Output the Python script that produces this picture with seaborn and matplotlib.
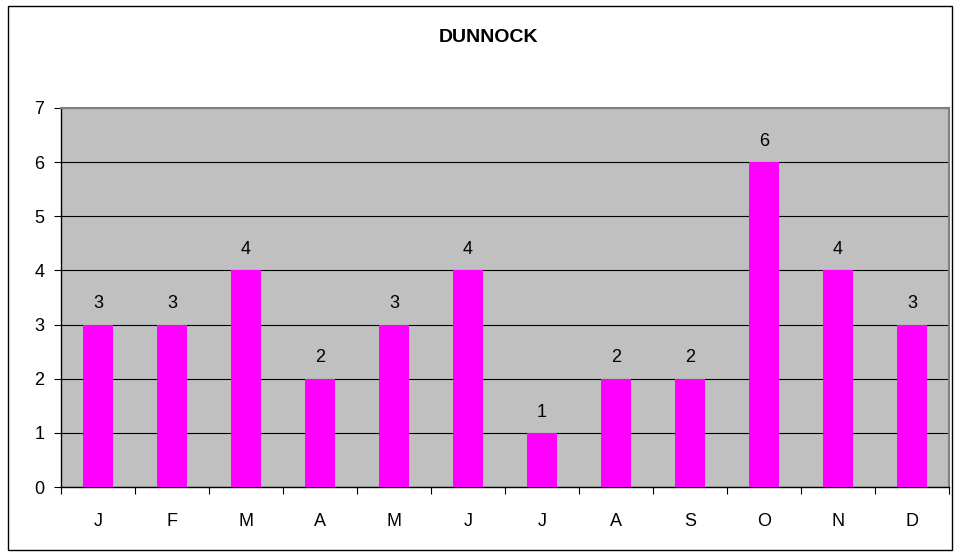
import matplotlib.pyplot as plt
import matplotlib.patches as mpatches
import pandas as pd
import seaborn as sns
import numpy as np

months = ["J", "F", "M", "A", "M", "J", "J", "A", "S", "O", "N", "D"]
counts = [3, 3, 4, 2, 3, 4, 1, 2, 2, 6, 4, 3]
title = "DUNNOCK"

df = pd.DataFrame({"pos": range(len(months)), "count": counts})

plt.rcParams["font.family"] = ["Liberation Sans", "DejaVu Sans"]

fig = plt.figure(figsize=(9.61, 5.56), dpi=100)
ax = fig.add_axes([61 / 961, 1 - 487 / 556, (949 - 61) / 961, (487 - 108) / 556])

# outer chart border
fig.patches.append(mpatches.Rectangle((8 / 961, 1 - 550 / 556), 944 / 961, 544 / 556,
                                      transform=fig.transFigure, fill=False,
                                      edgecolor="black", linewidth=1))

sns.barplot(data=df, x="pos", y="count", ax=ax, color="#ff00ff",
            width=0.41, saturation=1, edgecolor="none", zorder=3)

ax.set_facecolor("#c0c0c0")
ax.set_ylim(0, 7)
ax.set_xlim(-0.5, len(months) - 0.5)
ax.set_yticks(range(0, 8))
ax.set_yticklabels([str(v) for v in range(0, 8)], fontsize=13)
ax.set_xticks(np.arange(-0.5, len(months), 1.0))
ax.set_xticklabels([])
ax.set_xticks(range(len(months)), minor=True)
ax.set_xticklabels(months, minor=True, fontsize=13)
ax.tick_params(axis="x", which="minor", length=0, pad=19)
ax.tick_params(axis="x", which="major", length=5, direction="out")
ax.tick_params(axis="y", length=5, direction="out", pad=7)
ax.grid(axis="y", color="black", linewidth=0.8, zorder=1)
ax.set_axisbelow(True)
ax.set_xlabel("")
ax.set_ylabel("")

for side in ["top", "right"]:
    ax.spines[side].set_color("#808080")
    ax.spines[side].set_linewidth(1.5)
for side in ["left", "bottom"]:
    ax.spines[side].set_color("black")
    ax.spines[side].set_linewidth(1)

for i, v in enumerate(counts):
    ax.text(i, v + 0.3, str(v), ha="center", va="baseline", fontsize=13)

fig.text(489 / 961, 1 - 38 / 556, title, ha="center", va="center",
         fontsize=14, fontweight="bold")

fig.savefig("out.png", dpi=100)
